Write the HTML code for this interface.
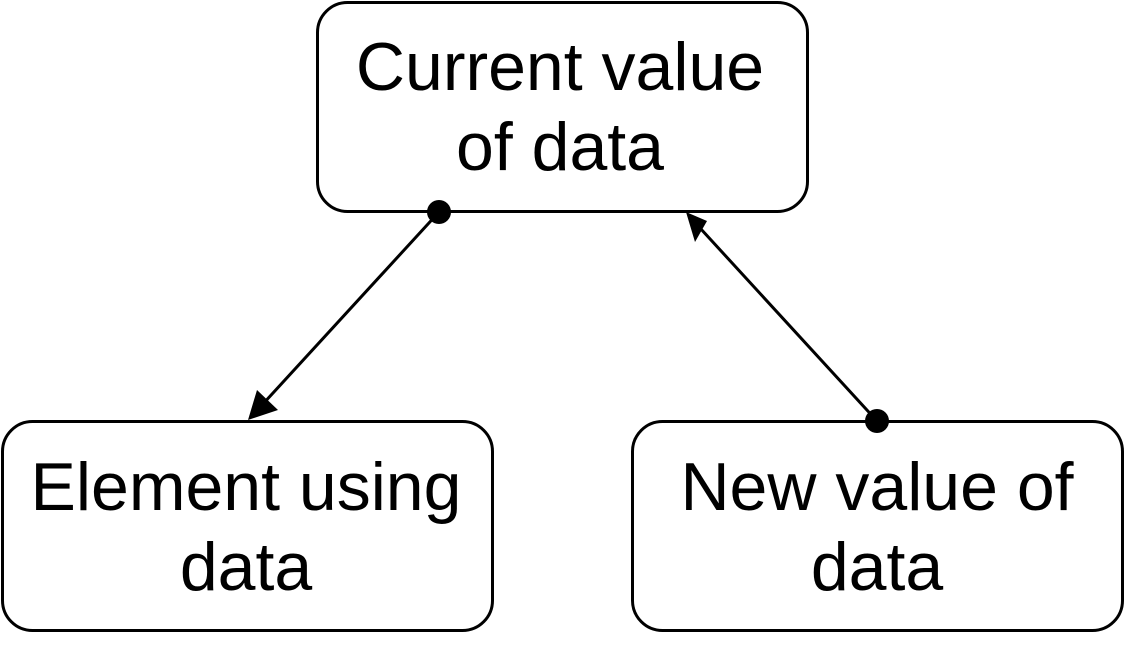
<!DOCTYPE html>
<html><head><meta charset="utf-8"><style>
html,body{margin:0;padding:0;background:#fff;}
svg text{font-family:"Liberation Sans",Helvetica,Arial,sans-serif;font-size:68px;fill:#000;text-anchor:middle;}
</style></head><body>
<svg width="1130" height="646" viewBox="0 0 1130 646" xmlns="http://www.w3.org/2000/svg">
<g fill="none" stroke="#000" stroke-width="3">
<rect x="317.5" y="2.5" width="490" height="209" rx="30"/>
<rect x="2.5" y="421.5" width="490" height="209" rx="30"/>
<rect x="632.5" y="421.5" width="490" height="209" rx="30"/>
<line x1="439" y1="212" x2="262" y2="405"/>
<line x1="877" y1="421" x2="700" y2="228"/>
</g>
<circle cx="439" cy="212" r="12"/>
<circle cx="877" cy="421" r="12"/>
<polygon points="248,420 257,390 278,410"/>
<polygon points="686,212 707,221 695,242"/>
<text x="560" y="90">Current value</text>
<text x="560" y="170">of data</text>
<text x="246" y="510">Element using</text>
<text x="246" y="590">data</text>
<text x="877" y="510">New value of</text>
<text x="877" y="590">data</text>
</svg>
</body></html>
